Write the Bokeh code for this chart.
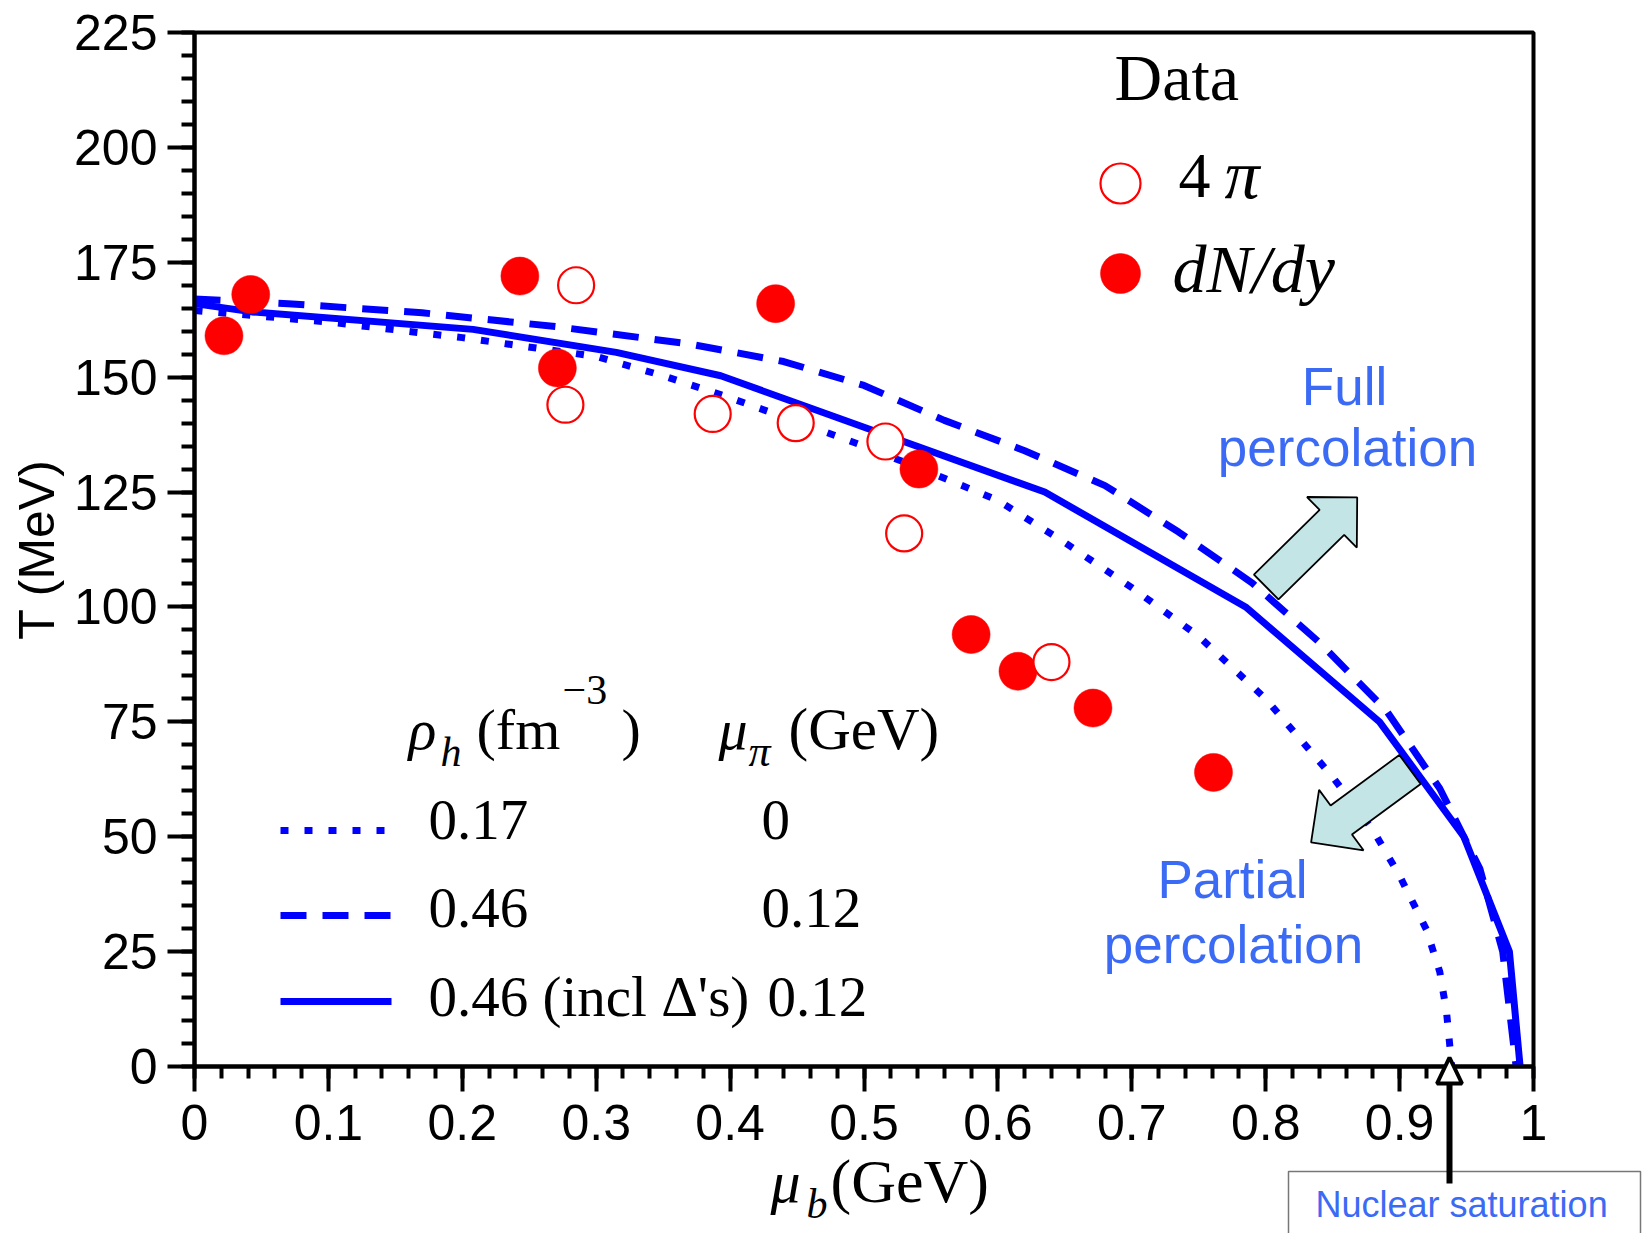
import math
from bokeh.plotting import figure
from bokeh.models import Range1d, FixedTicker, CustomJSTickFormatter, Label
from bokeh.core.properties import value
from bokeh.embed import file_html
from bokeh.resources import INLINE

# ---------------- data ----------------
mu_4pi = [0.285, 0.277, 0.387, 0.449, 0.516, 0.530, 0.640]
T_4pi = [170, 144, 142, 140, 136, 116, 88]

mu_dndy = [0.022, 0.042, 0.243, 0.271, 0.434, 0.541, 0.580, 0.615, 0.671, 0.761]
T_dndy = [159, 168, 172, 152, 166, 130, 94, 86, 78, 64]

# rho_h = 0.17, mu_pi = 0 (dotted)
mu_dot = [0, 0.1, 0.2, 0.3, 0.35, 0.4, 0.45, 0.5, 0.56, 0.6, 0.65, 0.7,
          0.75, 0.8, 0.85, 0.88, 0.9, 0.92, 0.93, 0.935, 0.939]
T_dot = [164.5, 162, 158.6, 154.5, 150.3, 145.5, 140.3, 135, 128, 123.2, 114,
         104.2, 93.6, 80, 63, 51.5, 41.5, 29.8, 20.6, 12, 0]

# rho_h = 0.46, mu_pi = 0.12 (dashed)
mu_dash = [0, 0.07, 0.17, 0.27, 0.37, 0.44, 0.50, 0.56, 0.62, 0.68, 0.735,
           0.79, 0.84, 0.89, 0.93, 0.96, 0.977, 0.987]
T_dash = [167, 166, 164, 161, 157.2, 153.4, 148.2, 140.6, 134, 126.4, 116.3,
          105.2, 92.3, 77.5, 60.5, 43, 25, 0]

# rho_h = 0.46 incl Delta's, mu_pi = 0.12 (solid)
mu_sol = [0, 0.043, 0.208, 0.315, 0.393, 0.635, 0.785, 0.885, 0.948, 0.982, 0.990]
T_sol = [166, 164.2, 160.4, 155.4, 150.3, 125, 100, 75, 50, 25, 0]

x_ticks = [0, 0.1, 0.2, 0.3, 0.4, 0.5, 0.6, 0.7, 0.8, 0.9, 1]
y_ticks = [0, 25, 50, 75, 100, 125, 150, 175, 200, 225]
x_minor = [round(0.02 * i, 2) for i in range(51)]
y_minor = list(range(0, 226, 5))

legend_rho = ["0.17", "0.46", "0.46 (incl \u0394's)"]
legend_mupi = ["0", "0.12", "0.12"]

# ---------------- layout ----------------
W, H = 1648, 1233
FL, FR, FT, FB = 194, 1533, 32, 1066          # frame edges in page pixels
XMIN, XMAX, YMIN, YMAX = 0.0, 1.0, 0.0, 225.0
SX = (FR - FL) / (XMAX - XMIN)
SY = (FB - FT) / (YMAX - YMIN)
BASE_K = 0.36   # correction: baseline offset of rendered text, in em


def X(px):
    return XMIN + (px - FL) / SX


def Y(py):
    return YMIN + (FB - py) / SY


BLUE = "#0000ff"
RED = "#ff0000"
TXTBLUE = "#3b6af5"
SERIF = "Liberation Serif"
SANS = "Liberation Sans"
LW = 7

p = figure(width=W, height=H, x_range=Range1d(XMIN, XMAX), y_range=Range1d(YMIN, YMAX),
           output_backend="svg", toolbar_location=None, title=None,
           min_border_left=FL, min_border_right=W - FR,
           min_border_top=FT, min_border_bottom=H - FB)
p.xgrid.visible = False
p.ygrid.visible = False
p.background_fill_color = "white"
p.border_fill_color = "white"
p.outline_line_color = "black"
p.outline_line_width = 4

fmt = CustomJSTickFormatter(code="return String(Math.round(tick * 1000) / 1000);")
for ax in (p.xaxis[0], p.yaxis[0]):
    ax.axis_line_width = 4
    ax.axis_line_color = "black"
    ax.major_tick_line_width = 4
    ax.minor_tick_line_width = 4
    ax.major_tick_line_color = "black"
    ax.minor_tick_line_color = "black"
    ax.major_tick_in = 0
    ax.minor_tick_in = 0
    ax.major_label_text_font = SANS
    ax.major_label_text_font_size = "50px"
    ax.major_label_text_color = "black"
    ax.formatter = fmt

p.xaxis.ticker = FixedTicker(ticks=x_ticks, minor_ticks=x_minor)
p.yaxis.ticker = FixedTicker(ticks=y_ticks, minor_ticks=y_minor)
p.xaxis.major_tick_out = 25
p.xaxis.minor_tick_out = 12
p.yaxis.major_tick_out = 27
p.yaxis.minor_tick_out = 13
p.xaxis.major_label_standoff = 13
p.yaxis.major_label_standoff = 10
p.xaxis.axis_label = None
p.yaxis.axis_label = "T (MeV)"
p.yaxis.axis_label_text_font = SANS
p.yaxis.axis_label_text_font_size = "50px"
p.yaxis.axis_label_text_font_style = "normal"
p.yaxis.axis_label_text_color = "black"
p.yaxis.axis_label_standoff = 6

# ---------------- curves ----------------
DOT = "8 16"
DASH = "26 16"
p.line(mu_dot, T_dot, line_color=BLUE, line_width=LW, line_dash=DOT)
p.line(mu_dash, T_dash, line_color=BLUE, line_width=LW, line_dash=DASH)
p.line(mu_sol, T_sol, line_color=BLUE, line_width=LW)


# ---------------- block arrows ----------------
def arrow_pts(tail_px, tip_px, shaft_w, head_w, head_len):
    (x0, y0), (x1, y1) = tail_px, tip_px
    dx, dy = x1 - x0, y1 - y0
    L = math.hypot(dx, dy)
    ux, uy = dx / L, dy / L
    nx, ny = -uy, ux
    bx, by = x1 - ux * head_len, y1 - uy * head_len
    pts = [
        (x0 + nx * shaft_w / 2, y0 + ny * shaft_w / 2),
        (bx + nx * shaft_w / 2, by + ny * shaft_w / 2),
        (bx + nx * head_w / 2, by + ny * head_w / 2),
        (x1, y1),
        (bx - nx * head_w / 2, by - ny * head_w / 2),
        (bx - nx * shaft_w / 2, by - ny * shaft_w / 2),
        (x0 - nx * shaft_w / 2, y0 - ny * shaft_w / 2),
    ]
    return [X(a) for a, b in pts], [Y(b) for a, b in pts]


for tail, tip, sw, hw, hl in [((1265.7, 586.5), (1356.7, 496.9), 35, 71, 35.5),
                              ((1409.5, 769.0), (1310.6, 841.8), 36, 75, 37.5)]:
    xs, ys = arrow_pts(tail, tip, sw, hw, hl)
    p.patch(xs, ys, fill_color="#c4e5e6", line_color="black", line_width=1.8)

# ---------------- data points ----------------
p.scatter(mu_dndy, T_dndy, size=38, marker="circle", fill_color=RED, line_color=RED, line_width=0.5)
p.scatter(mu_4pi, T_4pi, size=36, marker="circle", fill_color="white", line_color=RED, line_width=2.2)


# ---------------- texts ----------------
def lab(px, py, text, size, font=SERIF, style="normal", color="black", align="left"):
    """Text inside the frame: a Label whose baseline sits at page pixel (px, py)."""
    p.add_layout(Label(x=X(px), y=Y(py - BASE_K * size), text=text, text_font=font,
                       text_font_size=f"{size}px", text_font_style=style,
                       text_color=color, text_align=align, text_baseline="alphabetic"))


def otext(px, py, text, size, font=SERIF, style="normal", color="black", align="left"):
    """Text outside the frame: a text glyph on the overlay level (not clipped)."""
    p.text(x=[X(px)], y=[Y(py - BASE_K * size)], text=[text], text_font=value(font),
           text_font_size=value(f"{size}px"), text_font_style=value(style),
           text_color=color, text_align=value(align), text_baseline=value("alphabetic"),
           level="overlay")


# data legend (top right)
lab(1114, 101, "Data", 66)
p.scatter([X(1120)], [Y(183)], size=40, marker="circle", fill_color="white", line_color=RED, line_width=2.2)
p.scatter([X(1120)], [Y(273)], size=40, marker="circle", fill_color=RED, line_color=RED, line_width=0.5)
lab(1178, 199, "4", 64)
lab(1224, 199, "\u03c0", 70, style="italic")
lab(1172, 293, "dN/dy", 68, style="italic")

# model legend (bottom left)
lab(408, 750, "\u03c1", 58, style="italic")
lab(440, 767, "h", 42, style="italic")
lab(476, 750, "(fm", 58)
lab(562, 705, "\u22123", 42)
lab(621, 750, ")", 58)
lab(718, 750, "\u03bc", 58, style="italic")
lab(748, 767, "\u03c0", 44, style="italic")
lab(788, 750, "(GeV)", 59)

row_y = [830, 915, 1001]
row_base = [840, 928, 1017]
dashes = [DOT, DASH, None]
mupi_x = [761, 761, 767]
for i in range(3):
    kw = {} if dashes[i] is None else {"line_dash": dashes[i]}
    p.line([X(280), X(391)], [Y(row_y[i]), Y(row_y[i])], line_color=BLUE, line_width=LW, **kw)
    lab(428, row_base[i], legend_rho[i], 57)
    lab(mupi_x[i], row_base[i], legend_mupi[i], 57)

# percolation annotations
lab(1344, 405, "Full", 53, font=SANS, color=TXTBLUE, align="center")
lab(1347, 466, "percolation", 53, font=SANS, color=TXTBLUE, align="center")
lab(1232, 898, "Partial", 53, font=SANS, color=TXTBLUE, align="center")
lab(1233, 963, "percolation", 53, font=SANS, color=TXTBLUE, align="center")

# x axis label: mu_b (GeV)  (outside the frame)
otext(770, 1203, "\u03bc", 60, style="italic")
otext(806, 1219, "b", 42, style="italic")
otext(830, 1203, "(GeV)", 62)

# nuclear saturation box, arrow and text (outside the frame)
p.quad(left=[X(1288)], right=[X(1640)], top=[Y(1171)], bottom=[Y(1260)],
       fill_color="white", line_color="#777777", line_width=1.5, level="overlay")
p.segment(x0=[X(1449)], y0=[Y(1183)], x1=[X(1449)], y1=[Y(1080)],
          line_color="black", line_width=6, level="overlay")
p.patch([X(1449), X(1436.5), X(1461.5)], [Y(1057), Y(1083), Y(1083)],
        fill_color="white", line_color="black", line_width=4, level="overlay")
otext(1315, 1217, "Nuclear saturation", 36, font=SANS, color=TXTBLUE)

open("out.html", "w").write(file_html(p, INLINE))
